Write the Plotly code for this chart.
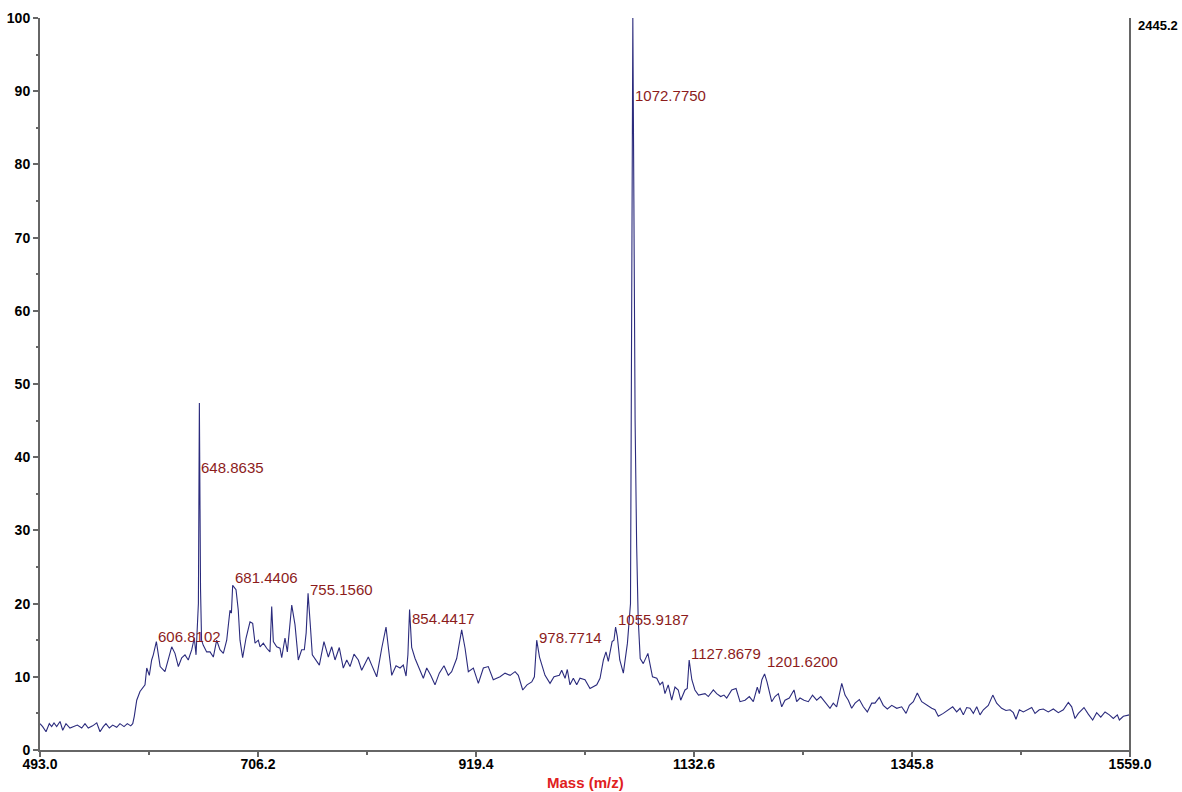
import plotly.graph_objects as go

# Mass spectrum: m/z vs relative intensity (%)
mz = [
    493.0, 495.6, 498.9, 502.1, 504.4, 506.7, 509.3, 512.6, 515.2, 518.4,
    522.3, 525.6, 529.5, 533.8, 537.0, 540.2, 544.5, 548.5, 551.7, 554.9,
    557.5, 560.8, 564.1, 568.0, 571.2, 575.2, 578.4, 581.7, 583.7, 585.2,
    587.6, 590.8, 595.7, 597.4, 599.9, 602.2, 603.8, 606.8102, 610.5, 615.2,
    618.5, 621.8, 625.0, 628.3, 631.6, 634.8, 638.0, 641.4, 643.9, 645.6,
    647.9, 648.8635, 650.0, 651.0, 652.7, 656.0, 659.3, 662.5, 665.8, 669.0,
    672.3, 675.6, 678.8, 680.2, 681.4406, 684.7, 686.9, 688.6, 691.2, 694.5,
    698.4, 701.0, 703.3, 706.5, 708.2, 711.4, 714.7, 717.9, 719.6, 721.2,
    724.5, 727.7, 729.4, 732.6, 734.9, 739.2, 742.4, 745.6, 748.9, 751.5,
    753.3, 755.1560, 757.5, 759.3, 766.2, 770.7, 775.0, 778.3, 781.5, 785.7,
    789.6, 793.0, 796.2, 800.1, 804.3, 807.6, 810.9, 814.1, 817.4, 822.3,
    827.2, 831.4, 833.6, 837.0, 841.2, 845.1, 848.3, 851.0, 852.8, 854.4417,
    856.5, 859.8, 864.6, 867.9, 871.2, 875.1, 879.3, 883.5, 888.1, 892.3,
    895.6, 900.5, 905.4, 908.7, 911.9, 916.8, 921.7, 926.6, 931.4, 936.3,
    942.9, 947.8, 952.7, 957.6, 960.8, 965.1, 969.3, 973.9, 976.5, 978.7714,
    981.5, 986.9, 991.8, 995.7, 1000.9, 1003.2, 1006.5, 1008.7, 1011.3, 1014.6,
    1017.9, 1021.1, 1026.0, 1030.9, 1037.5, 1040.7, 1044.0, 1046.5, 1048.8, 1052.5,
    1054.3, 1055.9187, 1057.6, 1060.0, 1063.5, 1067.5, 1070.5, 1071.8, 1072.7750, 1073.8,
    1075.0, 1076.5, 1078.0, 1080.0, 1083.0, 1087.5, 1092.0, 1096.2, 1099.3, 1101.9,
    1104.2, 1107.4, 1110.8, 1114.0, 1117.2, 1119.6, 1123.8, 1126.0, 1127.8679, 1130.5,
    1133.5, 1137.0, 1143.4, 1146.6, 1151.5, 1154.8, 1158.7, 1161.9, 1164.6, 1169.5,
    1173.7, 1177.6, 1182.5, 1186.7, 1190.6, 1194.5, 1196.5, 1199.0, 1201.6200, 1204.0,
    1208.6, 1211.8, 1215.1, 1218.4, 1221.6, 1225.8, 1230.4, 1233.0, 1236.3, 1240.2,
    1244.4, 1248.5, 1252.6, 1256.5, 1260.7, 1265.6, 1268.8, 1272.1, 1277.1, 1280.3,
    1283.5, 1286.8, 1290.1, 1294.3, 1298.2, 1302.1, 1306.4, 1309.6, 1313.8, 1317.7,
    1321.7, 1326.0, 1330.9, 1335.7, 1340.0, 1343.2, 1347.1, 1351.0, 1355.3, 1360.2,
    1365.1, 1368.3, 1371.5, 1376.4, 1381.3, 1385.6, 1389.5, 1392.8, 1396.0, 1399.3,
    1402.5, 1405.8, 1409.1, 1412.3, 1415.6, 1420.4, 1424.8, 1428.6, 1433.5, 1437.7,
    1441.7, 1444.9, 1447.5, 1450.8, 1454.7, 1459.6, 1462.9, 1466.1, 1470.3, 1474.2,
    1479.1, 1484.0, 1488.9, 1493.8, 1498.7, 1502.0, 1505.2, 1508.5, 1514.0, 1518.2,
    1522.5, 1526.4, 1530.4, 1534.6, 1538.8, 1542.7, 1546.6, 1548.6, 1552.5, 1558.4,
    1559.0,
]
intensity = [
    3.6, 3.2, 2.5, 3.6, 3.2, 3.7, 3.2, 3.9, 2.7, 3.6,
    3.0, 3.2, 3.4, 3.0, 3.6, 3.0, 3.3, 3.7, 2.5, 3.2,
    3.6, 3.0, 3.4, 3.1, 3.6, 3.2, 3.6, 3.3, 3.6, 4.6,
    6.8, 8.0, 8.9, 11.2, 10.2, 12.3, 13.0, 14.8, 11.4, 10.7,
    12.3, 14.1, 13.2, 11.4, 12.6, 13.0, 12.3, 13.7, 15.3, 13.0,
    20.0, 47.4, 22.0, 15.0, 14.3, 13.4, 13.4, 12.7, 15.0, 13.7,
    13.2, 15.0, 19.1, 18.7, 22.5, 21.9, 19.1, 15.0, 12.6, 15.3,
    17.5, 17.3, 14.6, 15.0, 14.1, 14.6, 13.9, 13.4, 19.6, 14.8,
    14.1, 13.9, 12.6, 15.3, 13.4, 19.8, 17.1, 12.3, 13.7, 13.7,
    16.0, 21.4, 16.8, 13.0, 11.6, 14.8, 12.7, 14.1, 12.3, 14.0,
    11.2, 12.3, 11.4, 13.1, 12.3, 10.9, 11.8, 12.7, 11.6, 10.0,
    13.9, 16.8, 14.1, 10.2, 11.5, 11.2, 11.6, 10.1, 13.0, 19.2,
    14.0, 12.5, 10.9, 9.8, 11.2, 10.2, 8.9, 10.5, 11.5, 10.2,
    10.7, 12.5, 16.4, 13.9, 10.7, 11.2, 9.1, 11.2, 11.4, 9.6,
    10.0, 10.5, 10.2, 10.7, 10.2, 8.2, 8.9, 9.3, 10.0, 15.0,
    12.7, 10.2, 9.1, 10.0, 10.2, 10.9, 9.8, 11.0, 8.9, 9.8,
    8.9, 9.8, 9.6, 8.4, 8.9, 9.8, 12.3, 13.4, 12.1, 14.8,
    15.0, 16.8, 15.5, 12.3, 10.5, 14.6, 20.0, 60.0, 100.0, 75.0,
    45.0, 28.0, 18.0, 12.5, 11.8, 13.2, 10.0, 9.8, 8.9, 9.3,
    7.7, 8.9, 6.8, 8.6, 8.2, 6.8, 8.2, 8.4, 12.3, 9.6,
    8.2, 7.5, 7.7, 7.3, 8.2, 7.7, 7.3, 7.5, 7.1, 8.2,
    8.4, 6.6, 6.8, 7.3, 6.6, 8.6, 7.7, 9.6, 10.4, 9.3,
    6.6, 7.3, 7.7, 5.9, 6.8, 7.1, 8.2, 6.6, 7.1, 6.8,
    6.6, 7.5, 6.8, 7.3, 6.6, 5.7, 6.4, 5.9, 9.1, 7.5,
    6.8, 5.7, 6.4, 6.9, 5.9, 5.2, 6.4, 6.4, 7.2, 6.1,
    5.6, 6.1, 5.7, 5.9, 5.0, 6.1, 6.6, 7.8, 6.6, 6.1,
    5.7, 5.5, 4.6, 5.0, 5.5, 5.9, 5.2, 5.7, 4.8, 5.8,
    5.7, 5.0, 5.9, 4.8, 5.5, 6.1, 7.5, 6.4, 5.7, 5.4,
    5.5, 5.1, 4.2, 5.5, 5.2, 5.6, 5.8, 5.0, 5.5, 5.6,
    5.2, 5.6, 5.1, 5.5, 6.5, 5.9, 4.3, 5.0, 5.8, 4.9,
    4.1, 5.1, 4.5, 5.2, 4.8, 4.3, 4.8, 4.1, 4.6, 4.8,
    4.8,
]

# Annotated peaks (m/z values)
peak_mz = [606.8102, 648.8635, 681.4406, 755.1560, 854.4417,
           978.7714, 1055.9187, 1072.7750, 1127.8679, 1201.6200]

# x-axis ticks
x_tick_vals = [493.0, 706.2, 919.4, 1132.6, 1345.8, 1559.0]
x_minor_vals = [599.6, 812.8, 1026.0, 1239.2, 1452.4]
max_counts = "2445.2"

# vertical pixel offset of each peak label relative to its peak top
label_yshift = [5, -64, 8, 4, -9, 3, 8, -77, 6, 12]

FONT = "Arial, 'Liberation Sans', sans-serif"
AXIS_GREY = "#666666"

fig = go.Figure()
fig.add_trace(go.Scatter(
    x=mz, y=intensity, mode="lines",
    line=dict(color="#2b2b7d", width=1.1),
    hoverinfo="x+y", showlegend=False,
))

for pm, dy in zip(peak_mz, label_yshift):
    py = intensity[mz.index(pm)]
    fig.add_annotation(
        x=pm, y=py, text=f"{pm:.4f}", showarrow=False,
        xanchor="left", yanchor="middle", xshift=0, yshift=dy,
        font=dict(family=FONT, size=15, color="#8c1c1c"),
    )

# counts at 100 % on the right-hand axis
fig.add_annotation(
    x=1, y=1, xref="paper", yref="paper", text=f"<b>{max_counts}</b>",
    showarrow=False, xanchor="left", yanchor="middle", xshift=6, yshift=-7,
    font=dict(family=FONT, size=13, color="black"),
)

# x-axis title
fig.add_annotation(
    x=0.5, y=0, xref="paper", yref="paper", text="<b>Mass (m/z)</b>",
    showarrow=False, xanchor="center", yanchor="middle", yshift=-32,
    font=dict(family=FONT, size=15, color="#e02020"),
)

# right-hand vertical axis line
fig.add_shape(
    type="line", xref="paper", yref="paper", x0=1, x1=1, y0=-0.007, y1=1,
    line=dict(color=AXIS_GREY, width=2),
)

fig.update_layout(
    width=1182, height=792,
    margin=dict(l=40, r=52, t=18, b=42),
    paper_bgcolor="white", plot_bgcolor="white",
    font=dict(family=FONT, color="black"),
)

fig.update_xaxes(
    range=[493.0, 1559.0], automargin=False,
    tickmode="array", tickvals=x_tick_vals,
    ticktext=[f"<b>{v:.1f}</b>" for v in x_tick_vals],
    tickfont=dict(family=FONT, size=14, color="black"),
    ticks="outside", ticklen=5, tickwidth=1.5, tickcolor=AXIS_GREY,
    ticklabelstandoff=-5,
    minor=dict(tickvals=x_minor_vals, ticks="outside", ticklen=3,
               tickwidth=1.5, tickcolor=AXIS_GREY),
    showline=True, linecolor=AXIS_GREY, linewidth=2,
    showgrid=False, zeroline=False,
)

fig.update_yaxes(
    range=[0, 100], automargin=False, tickmode="linear", tick0=0, dtick=10,
    tickprefix="<b>", ticksuffix="</b>",
    tickfont=dict(family=FONT, size=14, color="black"),
    ticks="outside", ticklen=5, tickwidth=1.5, tickcolor=AXIS_GREY,
    minor=dict(dtick=5, tick0=0, ticks="outside", ticklen=2,
               tickwidth=1.5, tickcolor=AXIS_GREY),
    showline=True, linecolor=AXIS_GREY, linewidth=2,
    showgrid=False, zeroline=False,
)

fig.write_html("out.html")
